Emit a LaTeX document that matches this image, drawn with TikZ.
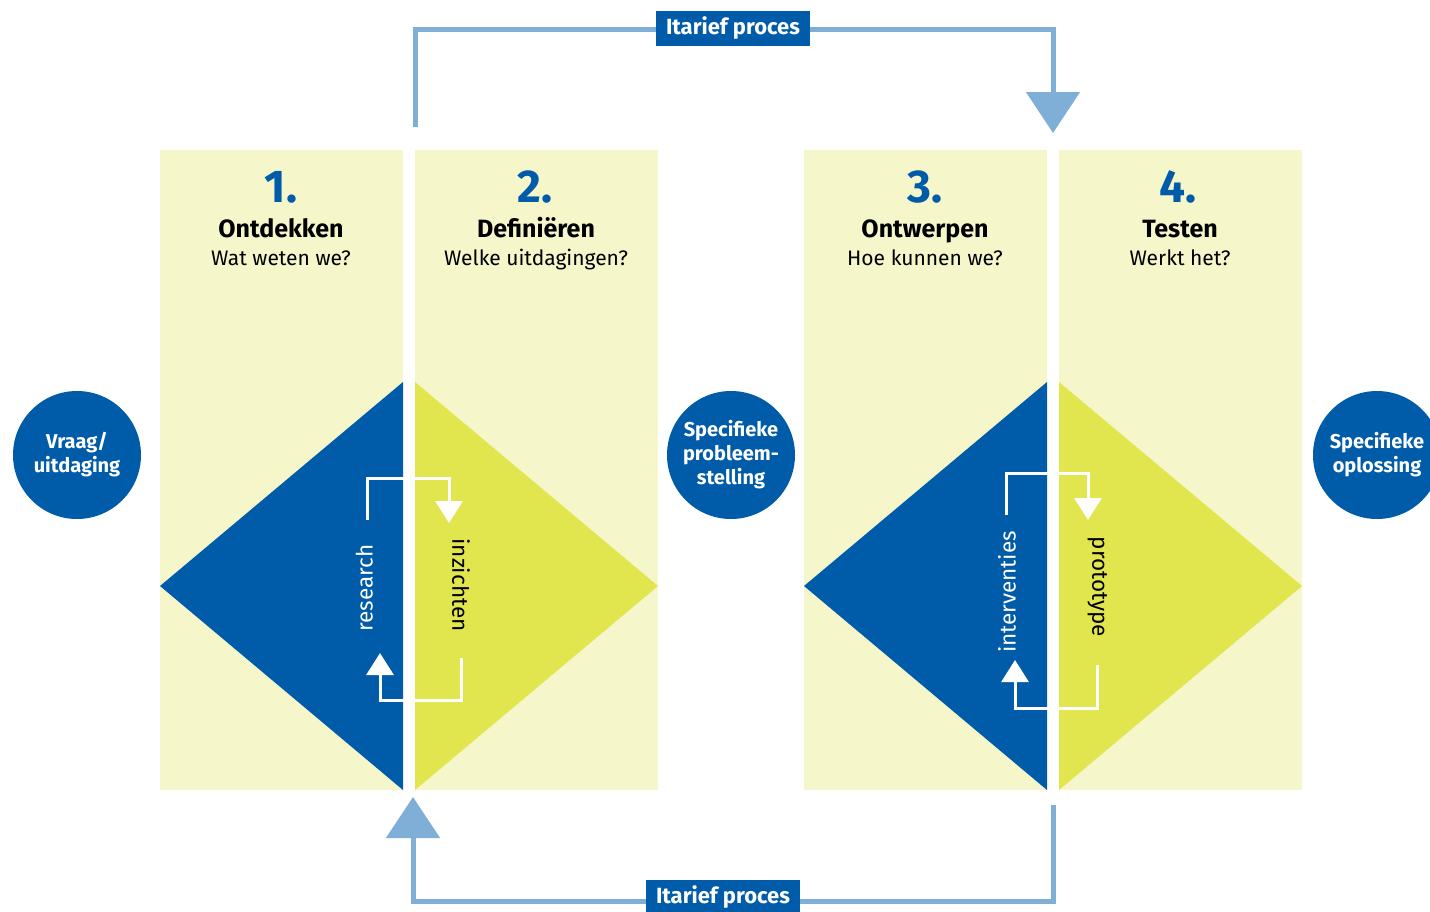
\documentclass[tikz,border=0pt]{standalone}
\usepackage{fontspec}
\setmainfont{Fira Sans}
\usetikzlibrary{arrows.meta}
\definecolor{dtblue}{HTML}{005CA9}
\definecolor{dtlime}{HTML}{E1E54E}
\definecolor{dtpale}{HTML}{F5F7CB}
\definecolor{dtsky}{HTML}{7FAED7}
\begin{document}
\begin{tikzpicture}[x=1pt,y=-1pt,
  panel/.style={fill=dtpale,draw=none,inner sep=0pt,minimum width=243pt,minimum height=640pt},
  stepnum/.style={text=dtblue,font=\fontsize{46}{46}\selectfont\bfseries,inner sep=0pt,anchor=base},
  stepname/.style={text=black,font=\fontsize{25}{25}\selectfont\bfseries,inner sep=0pt,anchor=base},
  stepsub/.style={text=black,font=\fontsize{21}{21}\selectfont,inner sep=0pt,anchor=base},
  bluecircle/.style={circle,fill=dtblue,minimum size=128pt,inner sep=0pt,text=white,align=center,font=\fontsize{20}{24}\selectfont\bfseries},
  loopline/.style={draw=dtsky,line width=5pt,-{Triangle[width=53pt,length=41pt]}},
  itlabel/.style={fill=dtblue,text=white,font=\fontsize{22}{22}\selectfont\bfseries,minimum width=154pt,minimum height=35pt,inner sep=0pt},
  wloop/.style={draw=white,line width=3pt,-{Triangle[width=27pt,length=22pt]}},
  vtext/.style={font=\fontsize{22.5}{22.5}\selectfont,inner sep=0pt,anchor=mid}
]
\useasboundingbox (0,0) rectangle (1430,911);
\fill[white] (0,0) rectangle (1430,911);

% panels
\node[panel] (p1) at (281.5,470) {};
\node[panel] (p2) at (536.5,470) {};
\node[panel] (p3) at (925.5,470) {};
\node[panel] (p4) at (1180.5,470) {};

% diamonds
\fill[dtblue] (160,586) -- (403,382) -- (403,790) -- cycle;
\fill[dtlime] (415,382) -- (658,586) -- (415,790) -- cycle;
\fill[dtblue] (804,586) -- (1047,382) -- (1047,790) -- cycle;
\fill[dtlime] (1059,382) -- (1302,586) -- (1059,790) -- cycle;

% headings
\node[stepnum] (n1) at (281,202) {1.};
\node[stepname] (t1) at (281,237) {Ontdekken};
\node[stepsub] (s1) at (281,265) {Wat weten we?};
\node[stepnum] (n2) at (535,202) {2.};
\node[stepname] (t2) at (536,237) {Definiëren};
\node[stepsub] (s2) at (536,265) {Welke uitdagingen?};
\node[stepnum] (n3) at (925,202) {3.};
\node[stepname] (t3) at (925,237) {Ontwerpen};
\node[stepsub] (s3) at (925,265) {Hoe kunnen we?};
\node[stepnum] (n4) at (1178,202) {4.};
\node[stepname] (t4) at (1180,237) {Testen};
\node[stepsub] (s4) at (1180,265) {Werkt het?};

% circles
\node[bluecircle] (c1) at (77,455) {Vraag/\\uitdaging};
\node[bluecircle] (c2) at (731,455) {Specifieke\\probleem-\\stelling};
\node[bluecircle] (c3) at (1377,455) {Specifieke\\oplossing};

% iteration loops
\coordinate (tA) at (415,127);
\coordinate (tB) at (1053,133);
\draw[loopline] (tA) -- ++(0,-98) -| (tB);
\node[itlabel] (l1) at (733,28) {Itarief proces};
\coordinate (bA) at (1053,805);
\coordinate (bB) at (413,797);
\draw[loopline] (bA) -- ++(0,96) -| (bB);
\node[itlabel] (l2) at (723,897) {Itarief proces};

% white loops diamond 1
\coordinate (w1a) at (367,520);
\coordinate (w1b) at (449,478);
\coordinate (w1c) at (449,523);
\draw[wloop] (w1a) |- (w1b) -- (w1c);
\coordinate (w1d) at (461,658);
\coordinate (w1e) at (380,700);
\coordinate (w1f) at (380,653);
\draw[wloop] (w1d) |- (w1e) -- (w1f);
\node[vtext,text=white,rotate=90] (r1) at (370,588) {research};
\node[vtext,text=black,rotate=-90] (r2) at (455,585) {inzichten};

% white loops diamond 2
\coordinate (w2a) at (1006,515);
\coordinate (w2b) at (1088,473);
\coordinate (w2c) at (1088,520);
\draw[wloop] (w2a) |- (w2b) -- (w2c);
\coordinate (w2d) at (1097,665);
\coordinate (w2e) at (1015,708);
\coordinate (w2f) at (1015,660);
\draw[wloop] (w2d) |- (w2e) -- (w2f);
\node[vtext,text=white,rotate=90] (r3) at (1013,592) {interventies};
\node[vtext,text=black,rotate=-90] (r4) at (1095,587) {prototype};
\end{tikzpicture}
\end{document}
